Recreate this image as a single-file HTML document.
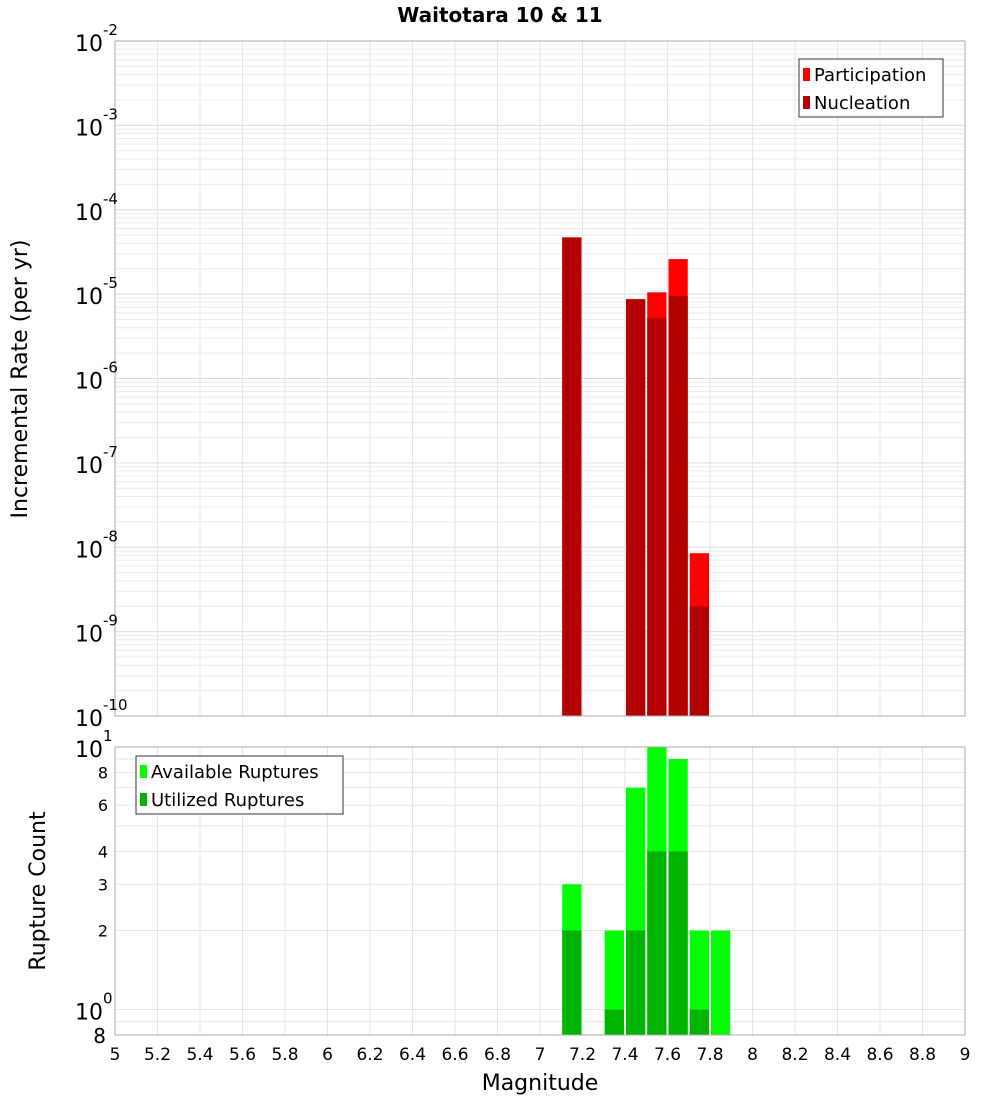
<!DOCTYPE html>
<html><head><meta charset="utf-8"><style>
body{margin:0;background:#fff;font-family:"Liberation Sans","DejaVu Sans",sans-serif}
</style></head><body>
<svg id="c" width="1000" height="1100" xmlns="http://www.w3.org/2000/svg" style="font-family:'DejaVu Sans','Liberation Sans',sans-serif">
<text x="500" y="22" text-anchor="middle" font-size="20" font-weight="bold">Waitotara 10 &amp; 11</text>
<text transform="translate(27,379) rotate(-90)" text-anchor="middle" font-size="22">Incremental Rate (per yr)</text>
<text transform="translate(45,891) rotate(-90)" text-anchor="middle" font-size="22">Rupture Count</text>
<text x="540" y="1090" text-anchor="middle" font-size="22">Magnitude</text>
<g id="g"></g>
</svg>
<script>
const bins=[7.1,7.4,7.5,7.6,7.7];
const participation=[4.7e-5,8.7e-6,1.05e-5,2.6e-5,8.5e-9];
const nucleation=[4.7e-5,8.7e-6,5.2e-6,9.5e-6,2.0e-9];
const countBins=[7.1,7.3,7.4,7.5,7.6,7.7,7.8];
const available=[3,2,7,10,9,2,2];
const utilized=[2,1,2,4,4,1,0];
const xTicks=[5,5.2,5.4,5.6,5.8,6,6.2,6.4,6.6,6.8,7,7.2,7.4,7.6,7.8,8,8.2,8.4,8.6,8.8,9];
const topExps=[-2,-3,-4,-5,-6,-7,-8,-9,-10];
const botTicks=[10,8,6,4,3,2,1,0.8];

const NS="http://www.w3.org/2000/svg", G=document.getElementById('g');
function el(t,a,txt){const e=document.createElementNS(NS,t);for(const k in a)e.setAttribute(k,a[k]);if(txt!==undefined)e.textContent=txt;G.appendChild(e);return e;}
const X0=115,X1=965;
const x=m=>X0+(m-5)/4*(X1-X0);
const T0=41,T1=716; const yT=v=>T0+(-2-Math.log10(v))/8*(T1-T0);
const B0=747,B1=1035; const lbMin=Math.log10(0.8); const yB=v=>B0+(1-Math.log10(v))/(1-lbMin)*(B1-B0);

// grids
for(let d=-10;d<-2;d++)for(let k=1;k<10;k++){const v=k*Math.pow(10,d);const y=yT(v);
 const e=el('line',{x1:X0,x2:X1,y1:y,y2:y,stroke:k==1?'#dcdcdc':'#ececec','stroke-width':1});
 }
for(let k=8;k<=10;k++){const y=yB(k/10);const e=el('line',{x1:X0,x2:X1,y1:y,y2:y,stroke:'#e6e6e6'});}
for(let k=1;k<10;k++){const y=yB(k);const e=el('line',{x1:X0,x2:X1,y1:y,y2:y,stroke:'#e6e6e6'});}
xTicks.forEach(m=>{const X=x(m);
 let e=el('line',{x1:X,x2:X,y1:T0,y2:T1,stroke:'#e6e6e6'});
 e=el('line',{x1:X,x2:X,y1:B0,y2:B1,stroke:'#e6e6e6'});
 e=el('text',{x:X,y:1060,'text-anchor':'middle','font-size':17},String(m));
});
// top bars
bins.forEach((b,i)=>{const xa=x(b)+1,w=x(b+0.1)-x(b)-2;
 let e=el('rect',{x:xa,y:yT(participation[i]),width:w,height:T1-yT(participation[i]),fill:'#ff0000'});
 e=el('rect',{x:xa,y:yT(nucleation[i]),width:w,height:T1-yT(nucleation[i]),fill:'#b30000'});
});
// bottom bars
countBins.forEach((b,i)=>{const xa=x(b)+1,w=x(b+0.1)-x(b)-2;
 let e=el('rect',{x:xa,y:yB(available[i]),width:w,height:B1-yB(available[i]),fill:'#00ff00'});
 if(utilized[i]>0){e=el('rect',{x:xa,y:yB(utilized[i]),width:w,height:B1-yB(utilized[i]),fill:'#00b300'});}
});
// frames
let f=el('rect',{x:X0,y:T0,width:X1-X0,height:T1-T0,fill:'none',stroke:'#aaa'});
f=el('rect',{x:X0,y:B0,width:X1-X0,height:B1-B0,fill:'none',stroke:'#aaa'});
// top y labels
topExps.forEach(p=>{const y=yT(Math.pow(10,p));
 const t=el('text',{x:103,y:y+10,'text-anchor':'end','font-size':22},'10');
 const s=el('text',{x:103,y:y-6,'font-size':15},String(p));
});
// bottom y labels
botTicks.forEach(v=>{const y=yB(v);let t;
 if(v==10||v==1){t=el('text',{x:103,y:y+10,'text-anchor':'end','font-size':22},'10');
  const s=el('text',{x:103,y:y-6,'font-size':15},v==10?'1':'0');}
 else if(v==0.8) t=el('text',{x:106,y:y+8,'text-anchor':'end','font-size':20},'8');
 else t=el('text',{x:108,y:y+6,'text-anchor':'end','font-size':16},String(v));
 
});
// legends
function legend(x0,y0,w,items,name){const r=el('rect',{x:x0,y:y0,width:w,height:58,fill:'#fff',stroke:'#333'});
 items.forEach((it,i)=>{const yy=y0+16+i*28;const s=el('rect',{x:x0+4,y:yy-7,width:7,height:13,fill:it[1]});
  const t=el('text',{x:x0+15,y:yy+6,'font-size':18},it[0]);});}
legend(799,59,144,[['Participation','#ff0000'],['Nucleation','#b30000']],'top-legend');
legend(136,756,207,[['Available Ruptures','#00ff00'],['Utilized Ruptures','#00b300']],'bottom-legend');
</script>
</body></html>
